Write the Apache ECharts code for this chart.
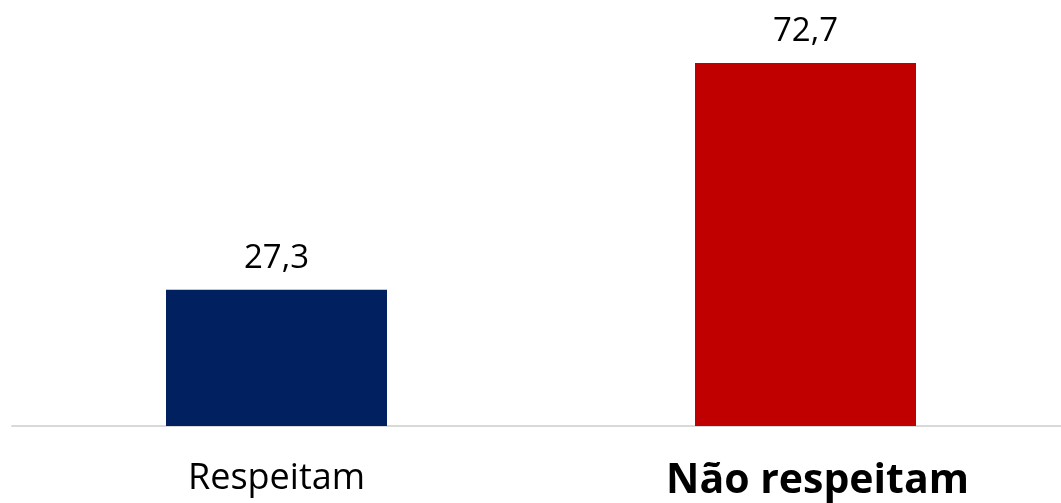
<!DOCTYPE html>
<html><head><meta charset="utf-8">
<script src="https://cdn.jsdelivr.net/npm/echarts@6/dist/echarts.min.js"></script>
<style>html,body{margin:0;padding:0;background:#fff}#c{width:1061px;height:503px}</style>
</head><body><div id="c"></div>
<script>
const categories = ['Respeitam', 'Não respeitam'];
const values = [27.3, 72.7];
const colors = ['#002060', '#C00000'];

const chart = echarts.init(document.getElementById('c'));
chart.setOption({
  animation: false,
  grid: { left: 12, right: -9, top: 26.6, bottom: 77, containLabel: false, outerBoundsMode: 'none' },
  xAxis: {
    type: 'category', data: categories,
    axisLine: { lineStyle: { color: '#D9D9D9', width: 2 } },
    axisTick: { show: false },
    axisLabel: {
      margin: 35,
      formatter: (v, i) => i === 1 ? '{b|' + v + '}' : '{a|' + v + '}',
      rich: {
        a: { fontFamily: 'Open Sans', fontSize: 36, color: '#000' },
        b: { fontFamily: 'Open Sans', fontSize: 41, fontWeight: 'bold', color: '#000', padding: [0, 0, 0, 24] }
      }
    }
  },
  yAxis: { type: 'value', min: 0, max: 80, show: false, splitLine: { show: false } },
  series: [{
    type: 'bar', barWidth: 221,
    data: values.map((v, i) => ({ value: v, itemStyle: { color: colors[i] } })),
    label: {
      show: true, position: 'top', distance: 15,
      fontFamily: 'Open Sans', fontSize: 33, color: '#000',
      formatter: p => String(p.value).replace('.', ',')
    }
  }]
});
</script></body></html>
